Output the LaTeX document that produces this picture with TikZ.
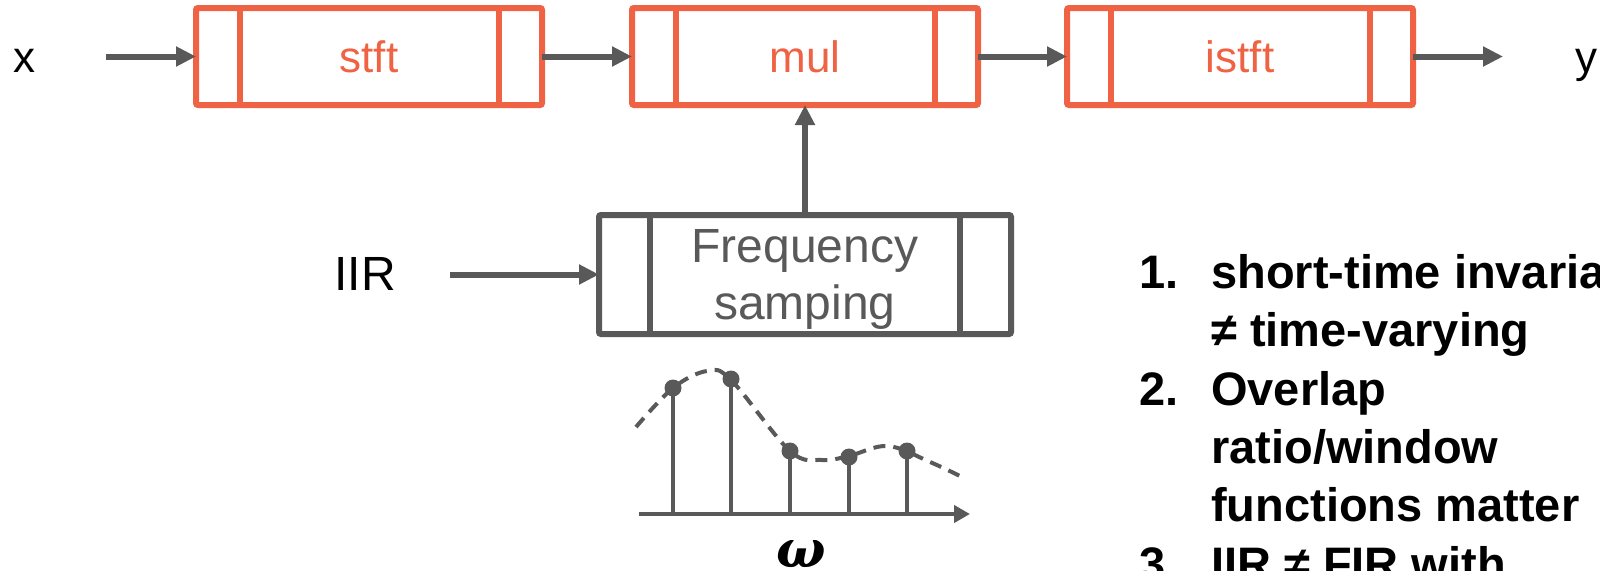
\documentclass[tikz,border=0pt]{standalone}
\usepackage{graphicx}
\usepackage{fontspec}
\setmainfont{Liberation Sans}
\newfontfamily\omgfont{DejaVu Serif}
\usepackage{tikz}
\usetikzlibrary{positioning,arrows.meta}
\definecolor{sorange}{HTML}{EF6244}
\definecolor{sgray}{HTML}{595959}
\tikzset{
  blk/.style 2 args = {draw=#1, text=#1, line width=6pt, rounded corners=2pt,
               inner sep=0pt, outer sep=0pt, align=center,
               path picture={
                 \draw[#1, line width=6pt]
                   ([xshift=#2]path picture bounding box.north west) --
                   ([xshift=#2]path picture bounding box.south west)
                   ([xshift=-#2]path picture bounding box.north east) --
                   ([xshift=-#2]path picture bounding box.south east);}},
  sb/.style  = {blk={sorange}{43.5pt}, minimum width=346pt, minimum height=97pt,
               font=\fontsize{44}{50}\selectfont},
  fb/.style  = {blk={sgray}{51pt}, minimum width=412pt, minimum height=119pt,
               font=\fontsize{48}{57}\selectfont},
  a/.style   = {-{Triangle[length=20pt,width=19pt]}, line width=6pt, draw=sgray},
  lbl/.style = {inner sep=0pt, text height=32pt, text depth=0pt,
               font=\fontsize{44}{50}\selectfont},
  lst/.style = {anchor=base west, inner sep=0pt, font=\fontsize{47}{58}\selectfont\bfseries},
  ax/.style  = {-{Triangle[length=16pt,width=17pt]}, line width=4.5pt, draw=sgray},
  stem/.style = {line width=4.5pt, draw=sgray},
  envl/.style = {line width=4pt, draw=sgray, dash pattern=on 12pt off 8pt},
}
\begin{document}
\begin{tikzpicture}[x=1pt,y=-1pt]
\useasboundingbox (0,0) rectangle (1600,570);

% ---- processing chain
\node[sb] (stft) at (369,56.5) {stft};
\node[sb, right=90pt of stft] (mul)   {mul};
\node[sb, right=89pt of mul]  (istft) {istft};
\node[fb, below=110pt of mul] (fs)
  {\raisebox{-5pt}[\height][\depth]{\begin{tabular}{@{}c@{}}Frequency\\samping\end{tabular}}};

% ---- inputs and output
\node[lbl, left=160pt of stft]  (xin)  {x};
\node[lbl, right=162pt of istft] (yout) {y};
\node[lbl, font=\fontsize{48}{57}\selectfont, left=203pt of fs] (iir) {IIR};

% ---- flow
\draw[a, shorten <=70pt] (xin) -- (stft);
\draw[a] (stft) -- (mul);
\draw[a] (mul) -- (istft);
\draw[a, shorten >=72pt] (istft) -- (yout);
\draw[a, shorten <=54pt] (iir) -- (fs);
\draw[a] (fs) -- (mul);

% ---- sampled response
\draw[envl] plot[smooth, tension=0.6] coordinates {(636,427) (673,388) (707,371)
  (731,380) (790,451) (822,460) (849,456) (888,446) (930,462) (962,477)};
\draw[ax] (639,514) -- (970,514);
\foreach \px/\py in {673/388, 731/379, 790/451, 849/457, 907/451} {
  \draw[stem] (\px,514) -- (\px,\py);
  \fill[sgray] (\px,\py) circle (8.5pt);
}
\node[anchor=base, inner sep=0pt, font=\fontsize{52}{52}\selectfont\omgfont\bfseries\itshape]
  (omg) at (801,567) {ω};

% ---- notes
\node[lst] (n1)  at (1139,288) {1.};
\node[lst] (t1a) at (1211,288) {short-time invariant};
\node[lst] (t1b) at (1211,346) {≠ time-varying};
\node[lst] (n2)  at (1139,405) {2.};
\node[lst] (t2a) at (1211,405) {Overlap};
\node[lst] (t2b) at (1211,463) {ratio/window};
\node[lst] (t2c) at (1211,521) {functions matter};
\node[lst] (n3)  at (1139,580) {3.};
\node[lst] (t3a) at (1211,580) {IIR ≠ FIR with};

\end{tikzpicture}
\end{document}
